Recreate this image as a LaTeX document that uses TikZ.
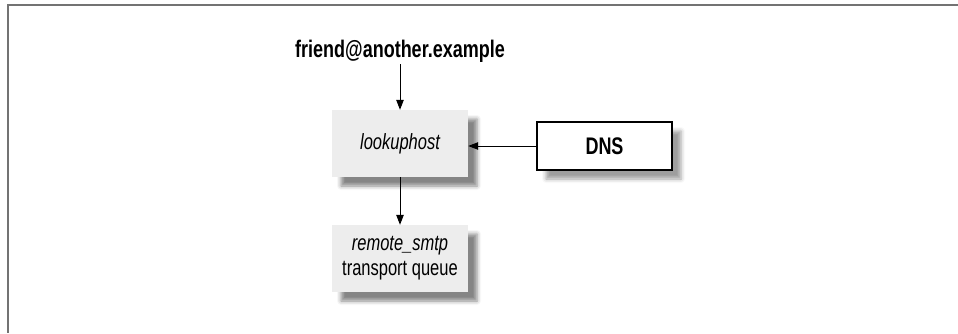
\documentclass[tikz,border=0pt]{standalone}
\usepackage{fontspec}
\setmainfont{Liberation Sans}[FakeStretch=0.75]
\usetikzlibrary{arrows.meta,shadows.blur}
\begin{document}
\begin{tikzpicture}[x=1pt,y=-1pt,
  grayframe/.style={draw=black!55, line width=1.5pt},
  procbox/.style={fill=black!7, minimum width=136pt, minimum height=67pt, inner sep=0pt,
    align=center, font=\fontsize{22}{25}\selectfont,
    blur shadow={shadow xshift=9pt, shadow yshift=-9pt, shadow blur radius=4pt, shadow opacity=48}},
  dnsbox/.style={draw=black, line width=2pt, fill=white, minimum width=135pt, minimum height=48pt,
    inner sep=0pt, font=\fontsize{24}{26}\selectfont\bfseries,
    blur shadow={shadow xshift=9pt, shadow yshift=-9pt, shadow blur radius=4pt, shadow opacity=38}},
  titletext/.style={font=\fontsize{24}{26}\selectfont\bfseries, inner sep=0pt},
  conn/.style={line width=1pt, -{Triangle[length=10pt,width=7.5pt]}}
]
\useasboundingbox (0,0) rectangle (958,333);
\draw[grayframe] (958,5) -- (8,5) -- (8,333);

\node[titletext, anchor=base] (addr) at (400,57) {friend@another.example};
\coordinate (addrbot) at (400,64);
\node[procbox] (lookup) at (400,143.5) {\itshape lookuphost};
\node[dnsbox] (dns) at (604.5,146) {DNS};
\node[procbox] (remote) at (400,258.5) {\itshape remote\_smtp\\transport queue};

\draw[conn] (addrbot) -- (lookup.north);
\draw[conn] (dns.west) -- (lookup.east |- dns.west);
\draw[conn] (lookup.south) -- (remote.north);
\end{tikzpicture}
\end{document}
